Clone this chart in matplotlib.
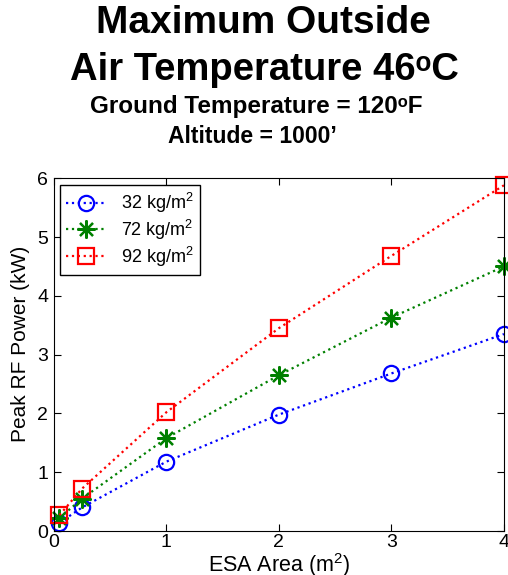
import matplotlib
matplotlib.use("Agg")
import matplotlib.pyplot as plt

plt.rcParams['font.family'] = ['Liberation Sans', 'DejaVu Sans']
plt.rcParams['mathtext.fontset'] = 'custom'
plt.rcParams['mathtext.rm'] = 'Liberation Sans'
plt.rcParams['mathtext.bf'] = 'Liberation Sans:bold'

# ESA area (m^2) and peak RF power (kW)
area = [0.05, 0.25, 1, 2, 3, 4]
power_32 = [0.14, 0.40, 1.18, 1.98, 2.68, 3.35]
power_72 = [0.22, 0.55, 1.58, 2.65, 3.63, 4.50]
power_92 = [0.27, 0.72, 2.02, 3.45, 4.68, 5.88]
labels = ['32 kg/m$^2$', '72 kg/m$^2$', '92 kg/m$^2$']

fig = plt.figure(figsize=(5.08, 5.75), dpi=100)
ax = fig.add_axes([0.106, 0.0765, 0.886, 0.6135])

ax.plot(area, power_32, ':', color='blue', marker='o', markersize=11,
        markerfacecolor='none', markeredgewidth=1.6, linewidth=1.6, label=labels[0], clip_on=False)
ax.plot(area, power_72, ':', color='green', marker=(8, 2, 0), markersize=13,
        markeredgewidth=1.6, linewidth=1.6, label=labels[1], clip_on=False)
ax.plot(area, power_92, ':', color='red', marker='s', markersize=11,
        markerfacecolor='none', markeredgewidth=1.6, linewidth=1.6, label=labels[2], clip_on=False)

ax.set_xlim(0, 4)
ax.set_ylim(0, 6)
ax.set_xticks([0, 1, 2, 3, 4])
ax.set_yticks([0, 1, 2, 3, 4, 5, 6])
ax.tick_params(direction='in', top=True, right=True, labelsize=14, length=5)
ax.tick_params(axis='x', pad=2)
ax.tick_params(axis='y', pad=4)
ax.set_xlabel('ESA Area (m$^2$)', fontsize=15.5, labelpad=0)
ax.set_ylabel('Peak RF Power (kW)', fontsize=15)
ax.yaxis.set_label_coords(-0.052, 0.53)

leg = ax.legend(loc='upper left', fontsize=13, fancybox=False, edgecolor='black',
                framealpha=1, handlelength=2.2, handletextpad=0.8, borderpad=0.35,
                borderaxespad=0.35, labelspacing=0.15)
leg.get_frame().set_linewidth(1.0)

fig.text(0.518, 0.960, 'Maximum Outside', ha='center', va='center',
         fontsize=28, fontweight='bold')
fig.text(0.52, 0.878, 'Air Temperature 46\u1d52C', ha='center', va='center',
         fontsize=27.5, fontweight='bold')
fig.text(0.505, 0.814, 'Ground Temperature = 120\u1d52F', ha='center', va='center',
         fontsize=17.5, fontweight='bold')
fig.text(0.497, 0.762, 'Altitude = 1000\u2019', ha='center', va='center',
         fontsize=16.5, fontweight='bold')

fig.savefig('out.png', dpi=100)
